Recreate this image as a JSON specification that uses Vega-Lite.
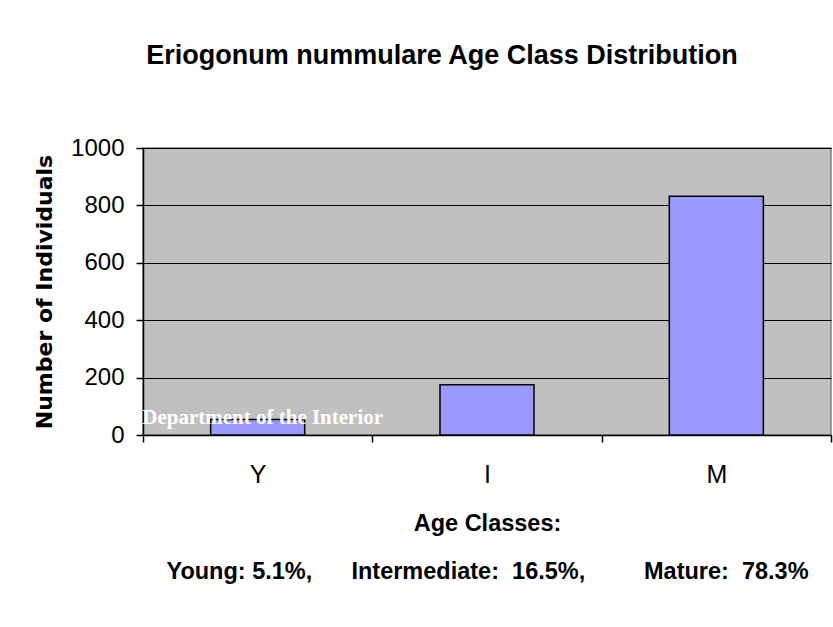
{
  "$schema": "https://vega.github.io/schema/vega-lite/v6.json",
  "autosize": "none",
  "width": 688,
  "height": 287,
  "padding": {"left": 143, "top": 148, "right": 2, "bottom": 192},
  "background": "#ffffff",
  "title": {
    "text": "Eriogonum nummulare Age Class Distribution",
    "font": "Liberation Sans",
    "fontSize": 27,
    "fontWeight": "bold",
    "color": "#000000",
    "anchor": "middle",
    "dx": -45,
    "offset": 66
  },
  "data": {
    "values": [
      {"age": "Y", "count": 54},
      {"age": "I", "count": 175},
      {"age": "M", "count": 832}
    ]
  },
  "layer": [
    {
      "mark": {"type": "bar", "fill": "#9999FF", "stroke": "#000000", "strokeWidth": 1.5, "width": {"band": 0.41}},
      "encoding": {
        "x": {
          "field": "age",
          "type": "nominal",
          "sort": ["Y", "I", "M"],
          "scale": {"paddingInner": 0, "paddingOuter": 0},
          "axis": {
            "title": ["Age Classes:", "Young:\u00a05.1%,\u00a0\u00a0\u00a0\u00a0\u00a0\u00a0Intermediate:\u00a0\u00a016.5%,\u00a0\u00a0\u00a0\u00a0\u00a0\u00a0\u00a0\u00a0\u00a0Mature:\u00a0\u00a078.3%"],
            "titleFont": "Liberation Sans",
            "titleFontSize": 23.5,
            "titleFontWeight": "bold",
            "titleColor": "#000000",
            "titleLineHeight": 48,
            "titlePadding": 24,
            "labelAngle": 0,
            "labelFont": "Liberation Sans",
            "labelFontSize": 25,
            "labelColor": "#000000",
            "labelPadding": 20,
            "tickBand": "extent",
            "tickSize": 7,
            "tickColor": "#000000",
            "tickWidth": 1.5,
            "domainColor": "#000000",
            "domainWidth": 1.5
          }
        },
        "y": {
          "field": "count",
          "type": "quantitative",
          "scale": {"domain": [0, 1000]},
          "axis": {
            "title": "Number of Individuals",
            "titleFont": "DejaVu Sans",
            "titleFontSize": 22,
            "titleFontWeight": "bold",
            "titleColor": "#000000",
            "titlePadding": 14,
            "values": [0, 200, 400, 600, 800, 1000],
            "format": "d",
            "labelFont": "Liberation Sans",
            "labelFontSize": 24,
            "labelColor": "#000000",
            "labelPadding": 12,
            "tickSize": 7,
            "tickColor": "#000000",
            "tickWidth": 1.5,
            "domainColor": "#000000",
            "domainWidth": 1.5,
            "grid": true,
            "gridColor": "#000000",
            "gridWidth": 1.2
          }
        }
      }
    },
    {
      "data": {"values": [{"age": "Y", "count": 40, "label": "Department of the Interior"}]},
      "mark": {
        "type": "text",
        "font": "Liberation Serif",
        "fontSize": 21,
        "fontWeight": "bold",
        "color": "#ffffff",
        "align": "center",
        "baseline": "alphabetic",
        "dx": 5
      },
      "encoding": {
        "x": {"field": "age", "type": "nominal", "sort": ["Y", "I", "M"]},
        "y": {"field": "count", "type": "quantitative"},
        "text": {"field": "label"}
      }
    }
  ],
  "config": {
    "view": {"fill": "#C0C0C0", "stroke": "#808080", "strokeWidth": 1.5}
  }
}
